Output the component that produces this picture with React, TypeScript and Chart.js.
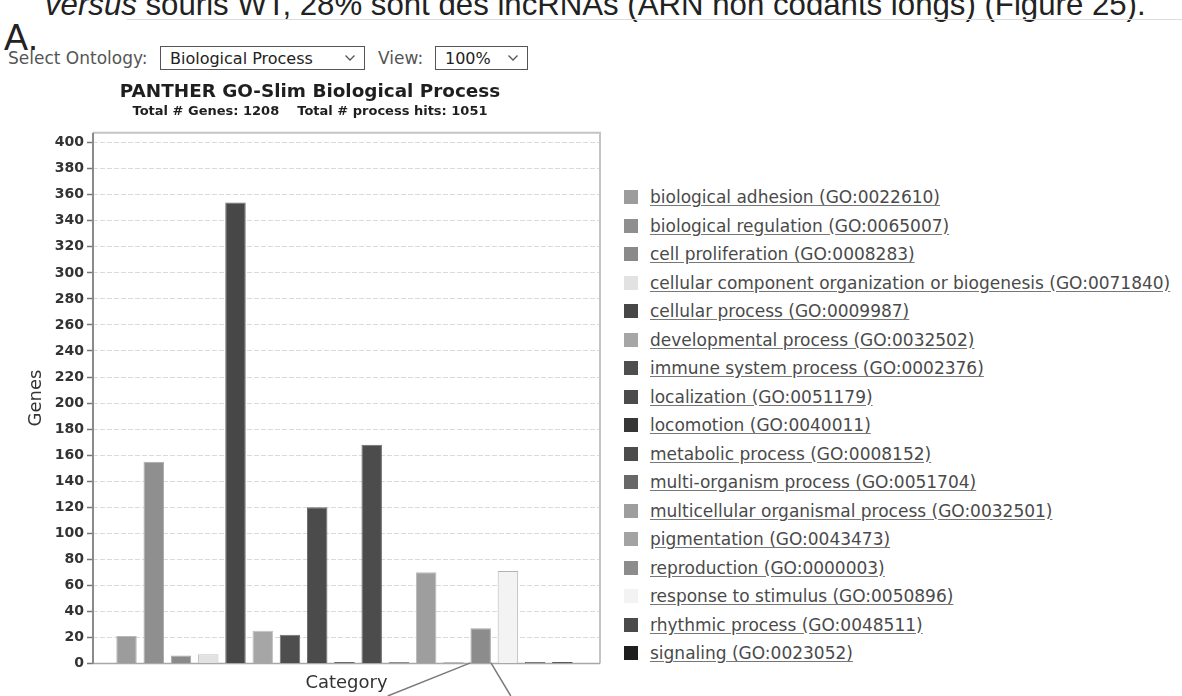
import React, { useEffect, useRef } from "react";
import { Chart, registerables } from "chart.js";

Chart.register(...registerables);

// ---------- data ----------
const categories = [
  "biological adhesion (GO:0022610)",
  "biological regulation (GO:0065007)",
  "cell proliferation (GO:0008283)",
  "cellular component organization or biogenesis (GO:0071840)",
  "cellular process (GO:0009987)",
  "developmental process (GO:0032502)",
  "immune system process (GO:0002376)",
  "localization (GO:0051179)",
  "locomotion (GO:0040011)",
  "metabolic process (GO:0008152)",
  "multi-organism process (GO:0051704)",
  "multicellular organismal process (GO:0032501)",
  "pigmentation (GO:0043473)",
  "reproduction (GO:0000003)",
  "response to stimulus (GO:0050896)",
  "rhythmic process (GO:0048511)",
  "signaling (GO:0023052)",
];

const geneCounts = [21, 155, 6, 7, 354, 25, 22, 120, 1, 168, 1, 70, 1, 27, 71, 1, 1];

const barColors = [
  "#9c9c9c", "#8f8f8f", "#8a8a8a", "#e2e2e2", "#474747", "#a6a6a6",
  "#4e4e4e", "#4b4b4b", "#363636", "#4c4c4c", "#686868", "#9e9e9e",
  "#a3a3a3", "#8c8c8c", "#f3f3f3", "#4a4a4a", "#1e1e1e",
];

const barBorders = [
  "#b8b8b8", "#acacac", "#a8a8a8", "#c4c4c4", "#6a6a6a", "#c0c0c0",
  "#707070", "#6c6c6c", "#5a5a5a", "#6c6c6c", "#888888", "#bababa",
  "#bdbdbd", "#a9a9a9", "#b4b4b4", "#6a6a6a", "#444444",
];

const yTickValues = [0, 20, 40, 60, 80, 100, 120, 140, 160, 180, 200, 220, 240, 260, 280, 300, 320, 340, 360, 380, 400];

const chartTitle = "PANTHER GO-Slim Biological Process";
const chartSubtitle = "Total # Genes: 1208    Total # process hits: 1051";
const yAxisTitle = "Genes";
const xAxisTitle = "Category";
const highlightedIndex = 13; // reproduction, pointed at by the callout lines

const FONT = "'DejaVu Sans', Verdana, sans-serif";

const framePlugin = {
  id: "frame",
  beforeDatasetsDraw(chart: any) {
    const { ctx, chartArea: a } = chart;
    ctx.save();
    ctx.strokeStyle = "#c4c4c4";
    ctx.lineWidth = 2;
    ctx.beginPath();
    ctx.moveTo(a.left, a.top);
    ctx.lineTo(a.right, a.top);
    ctx.lineTo(a.right, a.bottom);
    ctx.stroke();
    ctx.strokeStyle = "#a8a8a8";
    ctx.lineWidth = 1.5;
    ctx.beginPath();
    ctx.moveTo(a.left, a.bottom);
    ctx.lineTo(a.right, a.bottom);
    ctx.stroke();
    ctx.strokeStyle = "#8a8a8a";
    ctx.lineWidth = 2;
    ctx.beginPath();
    ctx.moveTo(a.left, a.top);
    ctx.lineTo(a.left, a.bottom);
    ctx.stroke();
    ctx.restore();
  },
};

const calloutPlugin = {
  id: "callout",
  afterDraw(chart: any) {
    const bar: any = chart.getDatasetMeta(0).data[highlightedIndex];
    if (!bar) return;
    const { ctx, height } = chart;
    const { x, width, base } = bar.getProps(["x", "width", "base"], true);
    const dy = height - base;
    ctx.save();
    ctx.strokeStyle = "#7a7a7a";
    ctx.lineWidth = 1.5;
    ctx.beginPath();
    ctx.moveTo(x - width / 2, base);
    ctx.lineTo(x - width / 2 - dy * 2.5, height);
    ctx.moveTo(x + width / 2, base);
    ctx.lineTo(x + width / 2 + dy * 0.6, height);
    ctx.stroke();
    ctx.restore();
  },
};

function Chevron() {
  return (
    <svg width="12" height="8" viewBox="0 0 12 8" style={{ display: "block" }}>
      <polyline points="1.5,1.5 6,6 10.5,1.5" fill="none" stroke="#555" strokeWidth="1.3" />
    </svg>
  );
}

export default function App() {
  const canvasRef = useRef<HTMLCanvasElement | null>(null);

  useEffect(() => {
    const canvas = canvasRef.current;
    if (!canvas) return;
    const points = categories.map((c, i) => ({ x: i, y: geneCounts[i] }));
    const chart = new Chart(canvas, {
      type: "bar",
      data: {
        datasets: [
          {
            label: yAxisTitle,
            data: points as any,
            backgroundColor: barColors,
            borderColor: barBorders,
            borderWidth: 1,
            categoryPercentage: 0.8,
            barPercentage: 0.94,
          },
        ],
      },
      options: {
        animation: false,
        responsive: false,
        maintainAspectRatio: false,
        layout: { padding: { top: 0, right: 20, bottom: 0, left: 20 } },
        plugins: {
          legend: { display: false },
          tooltip: { enabled: false },
          title: {
            display: true,
            text: chartTitle,
            color: "#1e1e1e",
            font: { family: FONT, size: 18.4, weight: "bold" },
            padding: { top: 9, bottom: 0 },
          },
          subtitle: {
            display: true,
            text: chartSubtitle,
            color: "#1e1e1e",
            font: { family: FONT, size: 13, weight: "bold" },
            padding: { top: 1, bottom: 13 },
          },
        },
        scales: {
          x: {
            type: "linear",
            offset: false,
            min: -1.23,
            max: 17.38,
            ticks: { display: false },
            grid: { display: false, drawTicks: false },
            border: { display: false },
            title: {
              display: true,
              text: xAxisTitle,
              color: "#333",
              font: { family: FONT, size: 18 },
              padding: { top: 9, bottom: 2 },
            },
          },
          y: {
            min: 0,
            max: 407.7,
            afterBuildTicks: (scale: any) => {
              scale.ticks = yTickValues.map((v) => ({ value: v }));
            },
            afterFit: (scale: any) => {
              scale.width = 73;
            },
            ticks: {
              color: "#333",
              font: { family: FONT, size: 14, weight: "bold" },
              padding: 3,
            },
            grid: {
              color: "#dadada",
              lineWidth: 1,
              tickColor: "#777",
              tickLength: 6,
              tickWidth: 1.5,
            },
            border: { display: false, dash: [5, 2] },
            title: {
              display: true,
              text: yAxisTitle,
              color: "#333",
              font: { family: FONT, size: 18 },
              padding: { top: 6, bottom: 0 },
            },
          },
        },
      } as any,
      plugins: [framePlugin, calloutPlugin],
    });
    return () => chart.destroy();
  }, []);

  const rowTop = 186;
  const rowH = 28.5;

  return (
    <div
      style={{
        position: "absolute",
        left: 0,
        top: 0,
        width: 1182,
        height: 696,
        overflow: "hidden",
        background: "#fff",
        fontFamily: FONT,
      }}
    >
      {/* cut-off sentence from the document above */}
      <div
        style={{
          position: "absolute",
          left: 45,
          top: -11,
          fontFamily: "'Liberation Sans', Arial, sans-serif",
          fontSize: 31.2,
          lineHeight: "31px",
          color: "#222",
          whiteSpace: "pre",
        }}
      >
        <i>versus</i> souris WT, 28% sont des lncRNAs (ARN non codants longs) (Figure 25).
      </div>
      <div style={{ position: "absolute", left: 127, top: 19, width: 1055, height: 1, background: "#dcdcdc" }} />
      <div
        style={{
          position: "absolute",
          left: 4,
          top: 20,
          fontFamily: "'Liberation Sans', Arial, sans-serif",
          fontSize: 36,
          lineHeight: "36px",
          color: "#222",
        }}
      >
        A.
      </div>

      {/* ontology selector */}
      <div style={{ position: "absolute", left: 8, top: 48, fontSize: 17, lineHeight: "21px", color: "#555", whiteSpace: "pre" }}>
        Select Ontology:
      </div>
      <div
        style={{
          position: "absolute",
          left: 160,
          top: 46,
          width: 205,
          height: 24,
          border: "1px solid #555",
          background: "#fff",
          display: "flex",
          alignItems: "center",
          justifyContent: "space-between",
          padding: "0 8px 0 9px",
          boxSizing: "border-box",
        }}
      >
        <span style={{ fontSize: 16, color: "#222", whiteSpace: "pre" }}>Biological Process</span>
        <Chevron />
      </div>
      <div style={{ position: "absolute", left: 378, top: 48, fontSize: 17, lineHeight: "21px", color: "#555" }}>View:</div>
      <div
        style={{
          position: "absolute",
          left: 435,
          top: 46,
          width: 93,
          height: 24,
          border: "1px solid #555",
          background: "#fff",
          display: "flex",
          alignItems: "center",
          justifyContent: "space-between",
          padding: "0 8px 0 9px",
          boxSizing: "border-box",
        }}
      >
        <span style={{ fontSize: 16, color: "#222" }}>100%</span>
        <Chevron />
      </div>

      <canvas
        ref={canvasRef}
        width={620}
        height={624}
        style={{ position: "absolute", left: 0, top: 72, width: 620, height: 624 }}
      />

      {/* legend */}
      {categories.map((c, i) => (
        <div
          key={c}
          style={{
            position: "absolute",
            left: 624,
            top: rowTop + i * rowH,
            height: 22,
            display: "flex",
            alignItems: "center",
            whiteSpace: "pre",
          }}
        >
          <span style={{ width: 14, height: 14, background: barColors[i], marginRight: 12, flex: "none" }} />
          <span
            style={{
              fontSize: 17,
              color: "#4a4a4a",
              textDecoration: "underline",
              textDecorationColor: "#777",
              textUnderlineOffset: 2,
            }}
          >
            {c}
          </span>
        </div>
      ))}
    </div>
  );
}
